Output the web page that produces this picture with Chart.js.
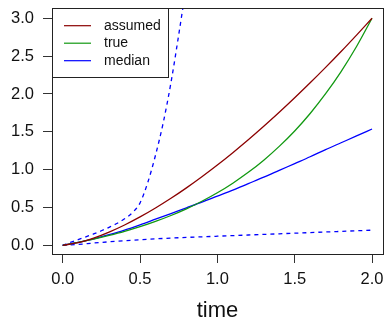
<!DOCTYPE html>
<html>
<head>
<meta charset="utf-8">
<script src="https://cdn.jsdelivr.net/npm/chart.js@4/dist/chart.umd.min.js"></script>
<style>
  html, body { margin: 0; padding: 0; background: #fff; }
  canvas { display: block; }
</style>
</head>
<body>
<canvas id="c" width="386" height="322"></canvas>
<script>
// ---- data ----
const seriesNames = ['assumed', 'true', 'median'];
const timeMain = [0, 0.1, 0.2, 0.3, 0.4, 0.5, 0.6, 0.7, 0.8, 0.9, 1.0, 1.1, 1.2, 1.3, 1.4, 1.5, 1.6, 1.7, 1.8, 1.9, 2.0];
const assumedVals = [0, 0.034, 0.095, 0.174, 0.268, 0.375, 0.493, 0.621, 0.759, 0.906, 1.061, 1.224, 1.394, 1.572, 1.757, 1.949, 2.147, 2.351, 2.561, 2.778, 3.0];
const trueVals = [0, 0.038, 0.081, 0.130, 0.184, 0.246, 0.316, 0.394, 0.482, 0.582, 0.694, 0.821, 0.964, 1.125, 1.307, 1.511, 1.742, 2.003, 2.296, 2.627, 3.0];
const medianVals = [0, 0.040, 0.085, 0.140, 0.200, 0.270, 0.345, 0.420, 0.495, 0.570, 0.650, 0.730, 0.815, 0.900, 0.990, 1.080, 1.170, 1.265, 1.355, 1.445, 1.537];
const timeUpper = [0, 0.05, 0.1, 0.15, 0.2, 0.25, 0.3, 0.35, 0.4, 0.45, 0.5, 0.55, 0.6, 0.65, 0.7, 0.75, 0.8];
const upperVals = [0, 0.038, 0.075, 0.112, 0.150, 0.192, 0.238, 0.288, 0.350, 0.430, 0.560, 0.830, 1.190, 1.620, 2.150, 2.780, 3.450];
const timeLower = [0, 0.1, 0.2, 0.3, 0.4, 0.5, 0.6, 0.7, 0.8, 0.9, 1.0, 1.2, 1.4, 1.6, 1.8, 2.0];
const lowerVals = [0, 0.012, 0.030, 0.046, 0.060, 0.073, 0.085, 0.095, 0.104, 0.112, 0.120, 0.136, 0.152, 0.168, 0.184, 0.200];
const xTickValues = [0, 0.5, 1.0, 1.5, 2.0];
const xTickLabels = ['0.0', '0.5', '1.0', '1.5', '2.0'];
const yTickValues = [0, 0.5, 1.0, 1.5, 2.0, 2.5, 3.0];
const yTickLabels = ['0.0', '0.5', '1.0', '1.5', '2.0', '2.5', '3.0'];
const xTitle = 'time';

// ---- build ----
const pts = (xs, ys) => xs.map((x, i) => ({ x: x, y: ys[i] }));
const FONT = "'Liberation Sans', Arial, Helvetica, sans-serif";
const colors = ['#8B0000', '#119911', '#0000FF'];

const boxLegend = {
  id: 'boxLegend',
  afterDraw(chart) {
    const { ctx, chartArea: a } = chart;
    ctx.save();
    ctx.strokeStyle = '#222';
    ctx.lineWidth = 1;
    const L = Math.round(a.left) + 0.5, R = Math.round(a.right) + 0.5;
    const T = Math.round(a.top) + 0.5, B = Math.round(a.bottom) + 0.5;
    ctx.strokeRect(L, T, R - L, B - T);
    // legend box
    const lw = 116, lh = 69;
    ctx.fillStyle = '#fff';
    ctx.fillRect(L, T, lw, lh);
    ctx.strokeRect(L, T, lw, lh);
    ctx.font = '14px ' + FONT;
    ctx.textBaseline = 'middle';
    ctx.textAlign = 'left';
    const rows = [25.7, 43.2, 60.7];
    for (let i = 0; i < 3; i++) {
      const ds = chart.data.datasets[i];
      ctx.strokeStyle = ds.borderColor;
      ctx.lineWidth = 1.2;
      ctx.beginPath();
      ctx.moveTo(64, rows[i]);
      ctx.lineTo(91, rows[i]);
      ctx.stroke();
      ctx.fillStyle = '#111';
      ctx.fillText(ds.label, 104, rows[i]);
    }
    ctx.restore();
  }
};

const lineDs = (label, data, color, dash) => ({
  label: label,
  data: data,
  borderColor: color,
  borderWidth: 1.3,
  borderDash: dash || [],
  pointRadius: 0,
  fill: false,
  cubicInterpolationMode: 'monotone'
});

new Chart(document.getElementById('c'), {
  type: 'line',
  data: {
    datasets: [
      lineDs(seriesNames[0], pts(timeMain, assumedVals), colors[0]),
      lineDs(seriesNames[1], pts(timeMain, trueVals), colors[1]),
      lineDs(seriesNames[2], pts(timeMain, medianVals), colors[2]),
      lineDs('upper', pts(timeUpper, upperVals), colors[2], [4, 4]),
      lineDs('lower', pts(timeLower, lowerVals), colors[2], [4, 4])
    ]
  },
  options: {
    responsive: false,
    devicePixelRatio: 1,
    animation: false,
    layout: { padding: { top: 8, right: 3, left: 0, bottom: 0 } },
    plugins: { legend: { display: false }, tooltip: { enabled: false } },
    scales: {
      x: {
        type: 'linear',
        min: -0.0692,
        max: 2.071,
        border: { display: false },
        grid: { display: true, drawOnChartArea: false, drawTicks: true, tickLength: 9, color: '#333', lineWidth: 1 },
        afterBuildTicks: (s) => { s.ticks = xTickValues.map(v => ({ value: v })); },
        afterFit: (s) => { s.height = 68; s.paddingLeft = 0; s.paddingRight = 0; s.paddingTop = 0; s.paddingBottom = 0; },
        ticks: {
          autoSkip: false, maxRotation: 0, minRotation: 0, padding: 7,
          color: '#111', font: { family: FONT, size: 16.5 },
          callback: (v, i) => xTickLabels[i]
        },
        title: {
          display: true, text: xTitle, color: '#111',
          font: { family: FONT, size: 22, lineHeight: 1 },
          padding: { top: 0, bottom: 0 }
        }
      },
      y: {
        type: 'linear',
        min: -0.115,
        max: 3.136,
        border: { display: false },
        grid: { display: true, drawOnChartArea: false, drawTicks: true, tickLength: 9, color: '#333', lineWidth: 1 },
        afterBuildTicks: (s) => { s.ticks = yTickValues.map(v => ({ value: v })); },
        afterFit: (s) => { s.width = 52; s.paddingLeft = 0; s.paddingRight = 0; s.paddingTop = 0; s.paddingBottom = 0; },
        ticks: {
          autoSkip: false, padding: 9,
          color: '#111', font: { family: FONT, size: 16.5 },
          callback: (v, i) => yTickLabels[i]
        }
      }
    }
  },
  plugins: [boxLegend]
});
</script>
</body>
</html>
